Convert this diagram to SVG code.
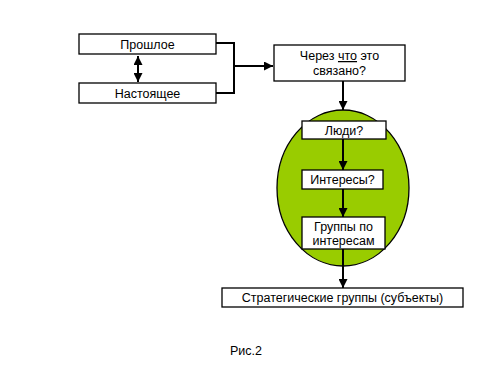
<svg xmlns="http://www.w3.org/2000/svg" width="500" height="375" viewBox="0 0 500 375">
<style>
.box{fill:#fff;stroke:#000;stroke-width:1.3}
.t{font-family:"Liberation Sans",Arial,sans-serif;font-size:12.5px;fill:#000;text-anchor:middle}
.c{fill:none;stroke:#000;stroke-width:2}
</style>
<defs>
<marker id="ah" markerWidth="4.5" markerHeight="4.5" refX="4.5" refY="2.25" orient="auto" markerUnits="strokeWidth">
<path d="M0,0 L4.5,2.25 L0,4.5 Z" fill="#000"/>
</marker>
<marker id="ahs" markerWidth="4.5" markerHeight="4.5" refX="4.5" refY="2.25" orient="auto-start-reverse" markerUnits="strokeWidth">
<path d="M0,0 L4.5,2.25 L0,4.5 Z" fill="#000"/>
</marker>
</defs>
<rect width="500" height="375" fill="#fff"/>
<g id="ellipse">
<ellipse cx="343" cy="188" rx="66" ry="78" fill="#99CC00" stroke="#000" stroke-width="1.3"/>
</g>
<g id="connectors">
<line class="c" x1="138" y1="56" x2="138" y2="82" marker-start="url(#ahs)" marker-end="url(#ahs)"/>
<polyline class="c" points="216,43 234,43 234,93 216,93"/>
<line class="c" x1="234" y1="66" x2="273" y2="66" stroke-width="1.5" marker-end="url(#ah)"/>
<line class="c" x1="343" y1="81" x2="343" y2="110" marker-end="url(#ah)"/>
<line class="c" x1="343" y1="139" x2="343" y2="170" marker-end="url(#ah)"/>
<line class="c" x1="343" y1="189" x2="343" y2="217" marker-end="url(#ah)"/>
<line class="c" x1="343" y1="249" x2="343" y2="288" marker-end="url(#ah)"/>
</g>
<g id="n-past">
<rect class="box" x="79" y="34" width="137" height="20"/>
<text class="t" x="147.5" y="48.5">Прошлое</text>
</g>
<g id="n-present">
<rect class="box" x="79" y="83" width="137" height="20"/>
<text class="t" x="147.5" y="97.5">Настоящее</text>
</g>
<g id="n-through">
<rect class="box" x="274" y="45" width="131" height="36"/>
<text class="t" x="339.5" y="60">Через <tspan text-decoration="underline">что</tspan> это</text>
<text class="t" x="339.5" y="75">связано?</text>
</g>
<g id="n-people">
<rect class="box" x="302" y="121" width="84" height="18"/>
<text class="t" x="344" y="134.5">Люди?</text>
</g>
<g id="n-interests">
<rect class="box" x="302" y="170" width="81" height="19"/>
<text class="t" x="342.5" y="184">Интересы?</text>
</g>
<g id="n-groups">
<rect class="box" x="302" y="217" width="83" height="32"/>
<text class="t" x="343.5" y="231">Группы по</text>
<text class="t" x="343.5" y="245">интересам</text>
</g>
<g id="n-strategic">
<rect class="box" x="222" y="288" width="241" height="19"/>
<text class="t" x="342.5" y="302">Стратегические группы (субъекты)</text>
</g>
<text class="t" x="246" y="355" font-size="11">Рис.2</text>
</svg>
